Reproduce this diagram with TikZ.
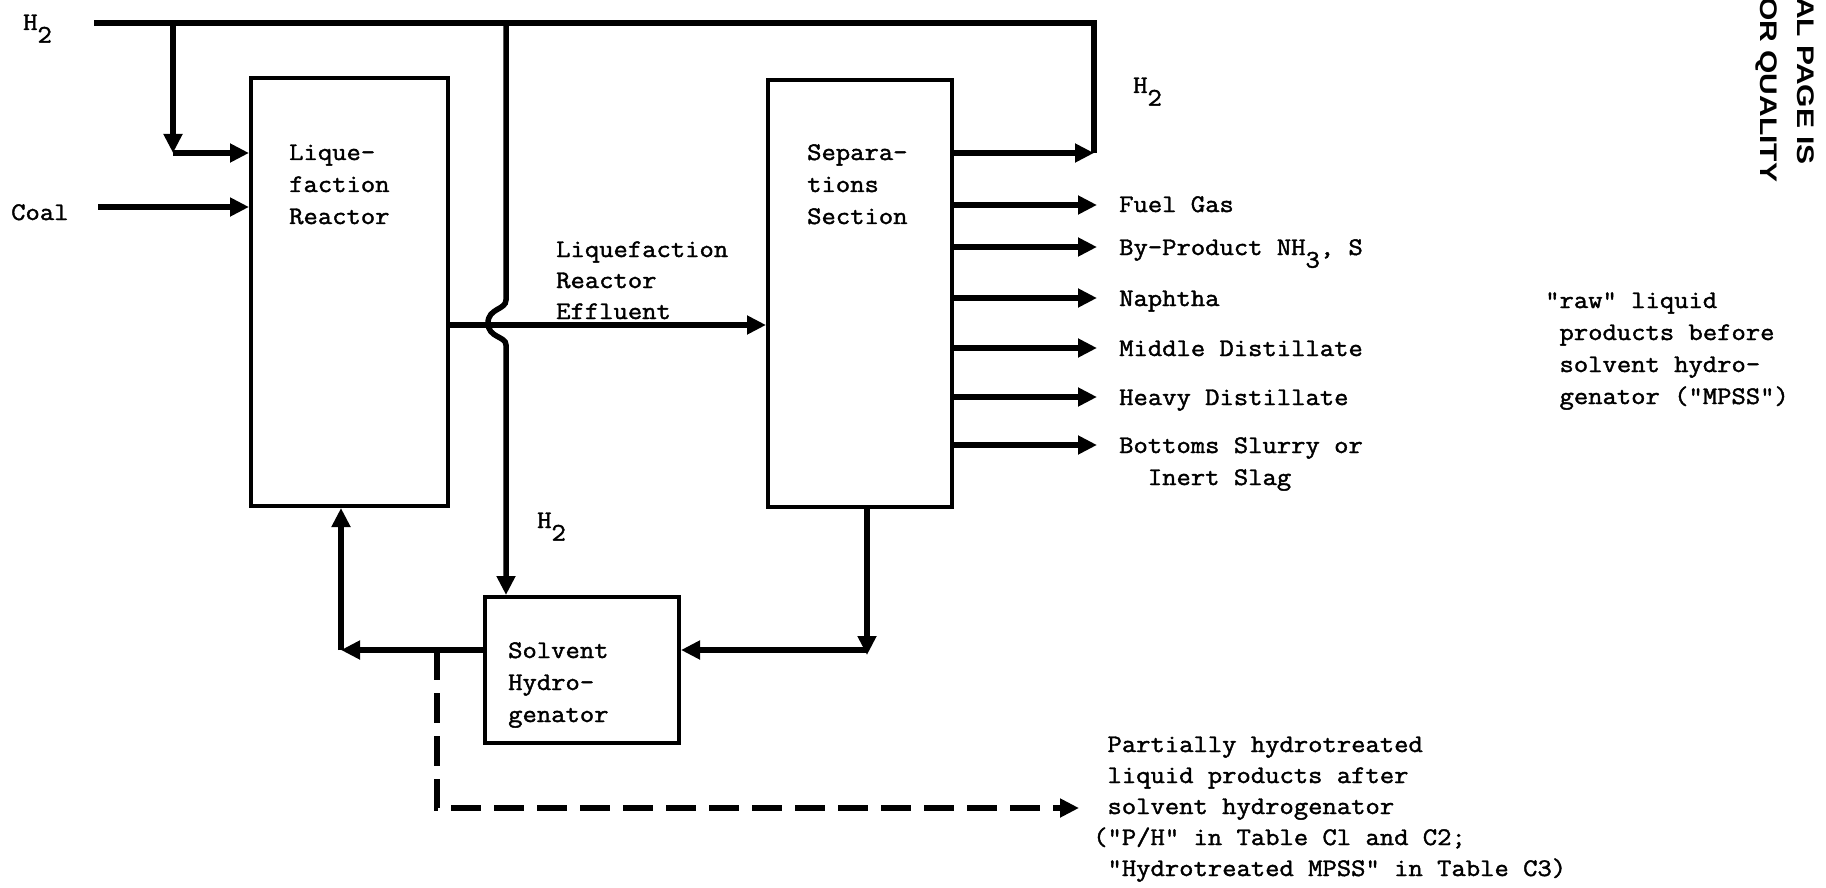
\documentclass[tikz,border=0pt]{standalone}
\usepackage{fontspec}
\usetikzlibrary{arrows.meta}
\newfontfamily\tw[FakeBold=1.6, FakeStretch=1.1]{Latin Modern Mono}
\newfontfamily\stampfont[FakeStretch=1.25]{Liberation Sans Bold}
\newcommand\lowsub[1]{\raisebox{-0.5em}{#1}}
\newcommand\ml[1]{\begin{tabular}[t]{@{}l@{}}#1\end{tabular}}
\begin{document}
\begin{tikzpicture}[x=1pt,y=-1pt,
  txt/.style={inner sep=0pt, anchor=base west, font=\tw\fontsize{25.3}{32}\selectfont},
  txtb/.style={inner sep=0pt, anchor=base west, font=\tw\fontsize{25.3}{31}\selectfont},
  box/.style={draw, line width=4pt, inner sep=0pt},
  pipe/.style={line width=5.5pt},
  flow/.style={line width=5.5pt, -{Triangle[length=19pt,width=18pt]}},
  dashflow/.style={line width=5.5pt, dash pattern=on 30pt off 13pt, -{Triangle[length=19pt,width=18pt]}},
  stamp/.style={inner sep=0pt, anchor=base west, rotate=-90, font=\stampfont\fontsize{24}{24}\selectfont}
]
\fill[white] (0,0) rectangle (1826,888);
\useasboundingbox (0,0) rectangle (1826,888);

% boxes
\node[box, minimum width=197pt, minimum height=428pt] (R) at (349.5,292) {};
\node[box, minimum width=184pt, minimum height=427pt] (S) at (860,293.5) {};
\node[box, minimum width=194pt, minimum height=146pt] (SH) at (582,670) {};

% box texts
\node[txt] (Rt) at (289,160) {\ml{Lique-\\faction\\Reactor}};
\node[txt] (St) at (807,160) {\ml{Separa-\\tions\\Section}};
\node[txt] (SHt) at (508,658) {\ml{Solvent\\Hydro-\\genator}};
\node[txtb] (Et) at (556,257) {\ml{Liquefaction\\Reactor\\Effluent}};

% labels
\node[txt] (h2a) at (23,30) {H\lowsub{2}};
\node[txt] (h2b) at (1133,93) {H\lowsub{2}};
\node[txt] (h2c) at (537,528) {H\lowsub{2}};
\node[txt] (coal) at (11,220) {Coal};
\node[txt] (l1) at (1119,212) {Fuel Gas};
\node[txt] (l2) at (1119,255) {By-Product NH\lowsub{3}, S};
\node[txt] (l3) at (1119,306) {Naphtha};
\node[txt] (l4) at (1119,356) {Middle Distillate};
\node[txt] (l5) at (1119,405) {Heavy Distillate};
\node[txt] (l6) at (1119,453) {\ml{Bottoms Slurry or\\\hphantom{xx}Inert Slag}};
\node[txt] (raw) at (1545,308) {\ml{"raw" liquid\\\hphantom{x}products before\\\hphantom{x}solvent hydro-\\\hphantom{x}genator ("MPSS")}};
\node[txtb] (ph) at (1093,752) {\ml{\hphantom{(}Partially hydrotreated\\\hphantom{(}liquid products after\\\hphantom{(}solvent hydrogenator\\("P/H" in Table Cl and C2;\\\hphantom{(}"Hydrotreated MPSS" in Table C3)}};

% stamp
\node[stamp] (st1) at (1797,-3) {AL PAGE IS};
\node[stamp] (st2) at (1760,-3) {OR QUALITY};

% coordinates
\coordinate (tl) at (94,23);
\coordinate (tr) at (1094,23);
\coordinate (b1) at (173,23);
\coordinate (c1) at (173,153);
\coordinate (sepc) at (1094,153);
\coordinate (coals) at (98,207);
\coordinate (v2) at (506,23);
\coordinate (hop1) at (506,300);
\coordinate (hop2) at (506,345);
\coordinate (effy) at (0,325);
\coordinate (o1) at (1097,205);
\coordinate (o2) at (1097,247);
\coordinate (o3) at (1097,298);
\coordinate (o4) at (1097,348);
\coordinate (o5) at (1097,397);
\coordinate (o6) at (1097,445);
\coordinate (sc) at (867,650);
\coordinate (scd) at (867,655);
\coordinate (lc) at (341,650);
\coordinate (dtop) at (437,650);
\coordinate (dcor) at (437,808);
\coordinate (dend) at (1079,808);

% H2 header
\draw[pipe] (tl) -- (tr) -- (sepc);
\draw[flow] (b1) -- (c1);
\draw[flow] (c1) -- (c1 -| R.west);
\draw[flow] (S.east |- sepc) -- (sepc);
% coal
\draw[flow] (coals) -- (coals -| R.west);
% H2 down with hop
\draw[flow] (v2) -- (hop1) .. controls (506,310) and (488,308) .. (488,323)
  .. controls (488,338) and (506,336) .. (hop2) -- (hop2 |- SH.north);
% effluent
\draw[flow] (R.east |- effy) -- (S.west |- effy);
% outputs
\foreach \o in {o1,o2,o3,o4,o5,o6} \draw[flow] (S.east |- \o) -- (\o);
% bottoms to solvent hydrogenator
\draw[flow] (S.south -| sc) -- (scd);
\draw[flow] (sc) -- (SH.east |- sc);
% solvent back to reactor
\draw[flow] (SH.west |- lc) -- (lc);
\draw[flow] (lc) -- (lc |- R.south);
% dashed product line
\draw[dashflow] (dtop) -- (dcor) -- (dend);
\end{tikzpicture}
\end{document}
